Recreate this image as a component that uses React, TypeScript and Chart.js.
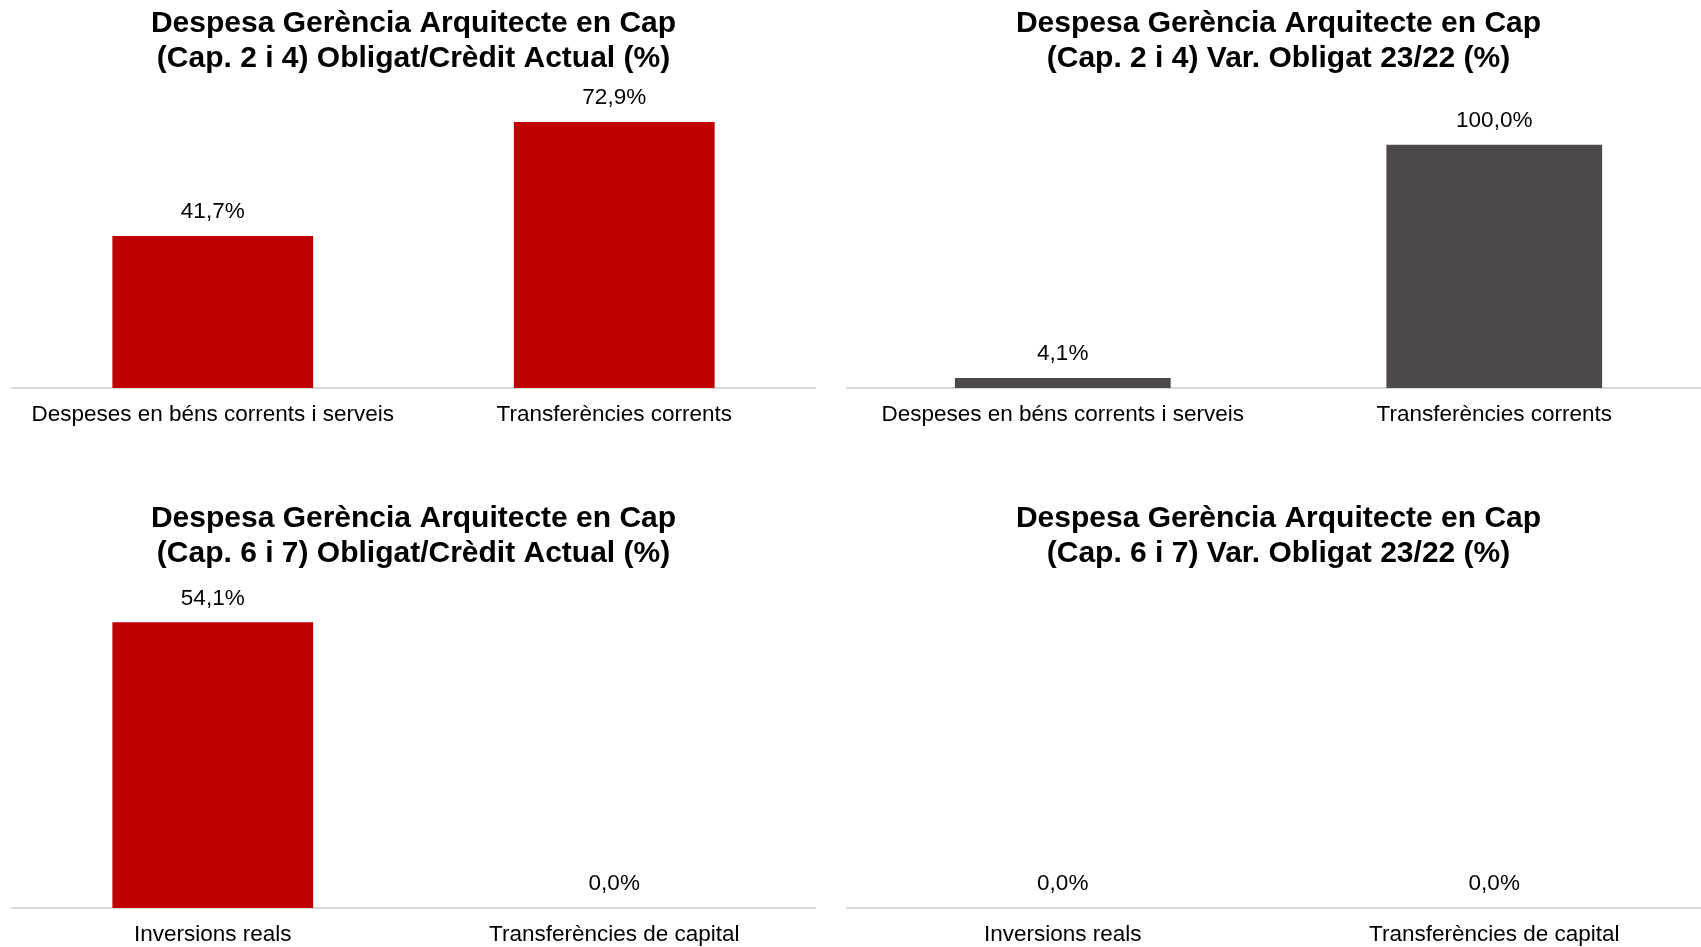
import React, { useEffect, useRef } from "react";
import { Chart, registerables } from "chart.js";

Chart.register(...registerables);

// ---- Data ----
const categoriesCap24 = ["Despeses en béns corrents i serveis", "Transferències corrents"];
const categoriesCap67 = ["Inversions reals", "Transferències de capital"];

const obligatCreditCap24 = [41.7, 72.9];
const varObligatCap24 = [4.1, 100.0];
const obligatCreditCap67 = [54.1, 0.0];
const varObligatCap67 = [0.0, 0.0];

const titleCap24Credit = ["Despesa Gerència Arquitecte en Cap", "(Cap. 2 i 4) Obligat/Crèdit Actual (%)"];
const titleCap24Var = ["Despesa Gerència Arquitecte en Cap", "(Cap. 2 i 4) Var. Obligat 23/22 (%)"];
const titleCap67Credit = ["Despesa Gerència Arquitecte en Cap", "(Cap. 6 i 7) Obligat/Crèdit Actual (%)"];
const titleCap67Var = ["Despesa Gerència Arquitecte en Cap", "(Cap. 6 i 7) Var. Obligat 23/22 (%)"];

const RED = "#C00000";
const GREY = "#4D4949";
const FONT = "'Liberation Sans', Arial, sans-serif";

const fmt = (v: number) => v.toFixed(1).replace(".", ",") + "%";

const valueLabelPlugin = {
  id: "valueLabels",
  afterDatasetsDraw(chart: any) {
    const ctx = chart.ctx;
    const meta = chart.getDatasetMeta(0);
    const data = chart.data.datasets[0].data as number[];
    ctx.save();
    ctx.font = `22.5px ${FONT}`;
    ctx.fillStyle = "#000";
    ctx.textAlign = "center";
    ctx.textBaseline = "middle";
    meta.data.forEach((bar: any, i: number) => {
      ctx.fillText(fmt(data[i]), bar.x, bar.y - 24);
    });
    ctx.restore();
  },
};

type Spec = {
  left: number;
  top: number;
  width: number;
  height: number;
  labels: string[];
  values: number[];
  color: string;
  title: string[];
  titleTop: number;
  yMax: number;
  xHeight: number;
};

function BarChart({ spec }: { spec: Spec }) {
  const ref = useRef<HTMLCanvasElement | null>(null);
  useEffect(() => {
    if (!ref.current) return;
    const chart = new Chart(ref.current, {
      type: "bar",
      data: {
        labels: spec.labels,
        datasets: [
          {
            data: spec.values,
            backgroundColor: spec.color,
            borderWidth: 0,
            categoryPercentage: 1,
            barPercentage: 0.5,
          },
        ],
      },
      options: {
        responsive: false,
        animation: false,
        devicePixelRatio: 1,
        layout: { padding: { left: 12, right: 12, top: 0, bottom: 0 } },
        plugins: {
          legend: { display: false },
          tooltip: { enabled: false },
          title: {
            display: true,
            text: spec.title,
            color: "#000",
            font: { family: FONT, size: 30, weight: "bold", lineHeight: 1.17 },
            padding: { top: spec.titleTop, bottom: 20 },
          },
        },
        scales: {
          x: {
            grid: { display: false },
            border: { display: true, color: "#D9D9D9", width: 2 },
            ticks: {
              color: "#000",
              font: { family: FONT, size: 22.5 },
              padding: 5,
              maxRotation: 0,
              autoSkip: false,
            },
            afterFit: (s: any) => {
              s.height = spec.xHeight;
            },
          },
          y: {
            display: false,
            min: 0,
            max: spec.yMax,
          },
        },
      },
      plugins: [valueLabelPlugin],
    });
    return () => chart.destroy();
  }, [spec]);
  return (
    <canvas
      ref={ref}
      width={spec.width}
      height={spec.height}
      style={{ position: "absolute", left: spec.left, top: spec.top, width: spec.width, height: spec.height }}
    />
  );
}

const specs: Spec[] = [
  {
    left: 0, top: 0, width: 827, height: 473,
    labels: categoriesCap24, values: obligatCreditCap24, color: RED,
    title: titleCap24Credit, titleTop: 6, yMax: 80, xHeight: 85,
  },
  {
    left: 835, top: 0, width: 887, height: 473,
    labels: categoriesCap24, values: varObligatCap24, color: GREY,
    title: titleCap24Var, titleTop: 6, yMax: 120, xHeight: 85,
  },
  {
    left: 0, top: 473, width: 827, height: 474,
    labels: categoriesCap67, values: obligatCreditCap67, color: RED,
    title: titleCap67Credit, titleTop: 28, yMax: 60, xHeight: 39,
  },
  {
    left: 835, top: 473, width: 887, height: 474,
    labels: categoriesCap67, values: varObligatCap67, color: GREY,
    title: titleCap67Var, titleTop: 28, yMax: 60, xHeight: 39,
  },
];

export default function App() {
  return (
    <div
      style={{
        position: "fixed",
        left: 0,
        top: 0,
        width: 1701,
        height: 947,
        overflow: "hidden",
        background: "#fff",
      }}
    >
      {specs.map((s, i) => (
        <BarChart key={i} spec={s} />
      ))}
    </div>
  );
}
